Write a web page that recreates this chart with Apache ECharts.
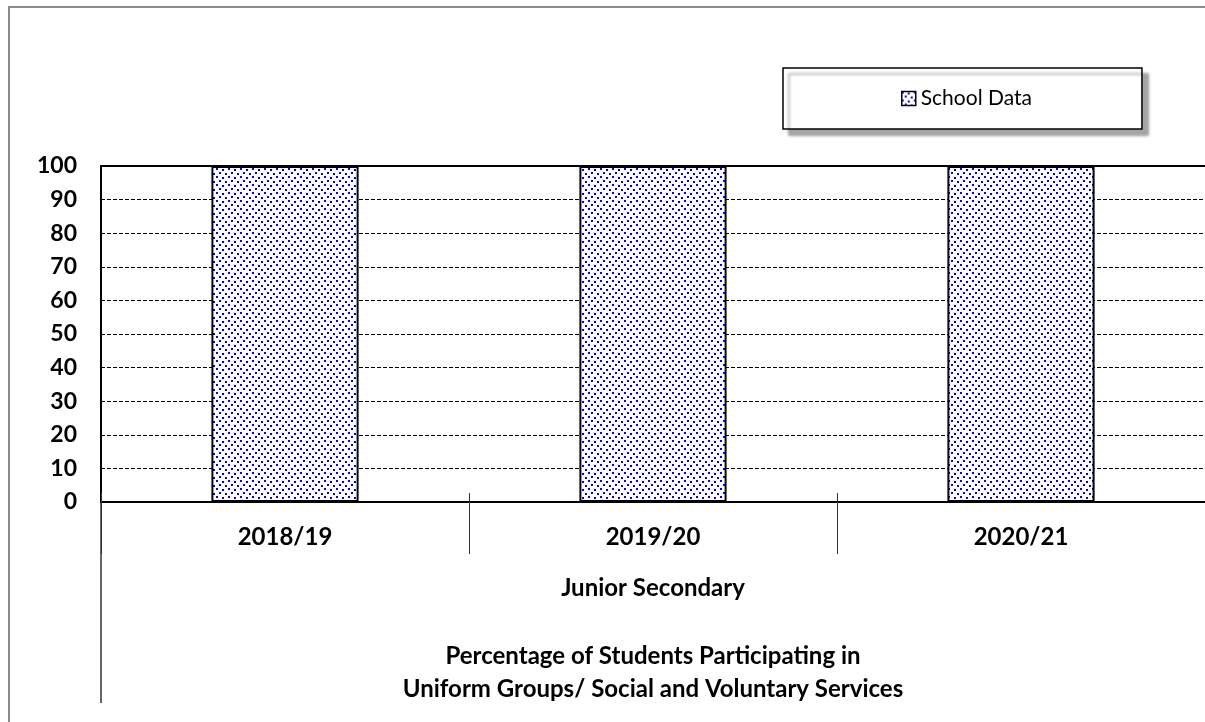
<!DOCTYPE html>
<html>
<head>
<meta charset="utf-8">
<script src="https://cdn.jsdelivr.net/npm/echarts@6/dist/echarts.min.js"></script>
<style>html,body{margin:0;padding:0;background:#fff}#c{width:1205px;height:722px}</style>
</head>
<body>
<div id="c"></div>
<script>
const categories = ['2018/19', '2019/20', '2020/21'];
const schoolData = [100, 100, 100];
const seriesName = 'School Data';
const groupLabel = 'Junior Secondary';
const titleLines = ['Percentage of Students Participating in', 'Uniform Groups/ Social and Voluntary Services'];
const yTicks = {min: 0, max: 100, interval: 10};

function makePattern() {
  const c = document.createElement('canvas');
  c.width = 12; c.height = 8;
  const g = c.getContext('2d');
  g.fillStyle = '#fff'; g.fillRect(0, 0, 12, 8);
  g.fillStyle = '#0000ff';
  g.fillRect(0, 0, 2, 2);
  g.fillRect(6, 1, 2, 2);
  g.fillRect(3, 4, 2, 2);
  g.fillRect(9, 5, 2, 2);
  return c;
}
const pattern = {image: makePattern(), repeat: 'repeat'};
const FONT = 'Lato';

const chart = echarts.init(document.getElementById('c'), null, {renderer: 'canvas'});
chart.setOption({
  animation: false,
  backgroundColor: '#fff',
  grid: {left: 101, top: 166, right: 0, bottom: 220, containLabel: false},
  legend: {
    left: 783, top: 68,
    padding: [20, 110, 20, 118],
    icon: 'rect',
    itemWidth: 14, itemHeight: 14, itemGap: 5,
    backgroundColor: '#fff',
    borderColor: '#000', borderWidth: 1.5,
    shadowColor: 'rgba(0,0,0,0.35)', shadowBlur: 3, shadowOffsetX: 6, shadowOffsetY: 6,
    textStyle: {fontFamily: FONT, fontSize: 21, color: '#000'},
    itemStyle: {borderWidth: 1.5, borderColor: '#000'},
    data: [seriesName]
  },
  xAxis: [
    {
      type: 'category', data: categories, position: 'bottom',
      axisLine: {show: true, lineStyle: {color: '#000', width: 2}},
      axisTick: {show: true, length: 52, lineStyle: {color: '#333', width: 1}},
      axisLabel: {fontFamily: FONT, fontWeight: 'bold', fontSize: 24, color: '#000', margin: 23},
      name: groupLabel, nameLocation: 'middle', nameGap: 74,
      nameTextStyle: {fontFamily: FONT, fontWeight: 'bold', fontSize: 24, color: '#000'},
      splitLine: {show: false}
    },
    {
      type: 'category', data: categories, position: 'bottom', offset: 0,
      axisLine: {show: false},
      axisTick: {show: true, inside: true, length: 9, lineStyle: {color: '#333', width: 1}},
      axisLabel: {show: false}, splitLine: {show: false}
    },
    {
      type: 'category', data: categories, position: 'top',
      axisLine: {show: true, lineStyle: {color: '#000', width: 2}},
      axisTick: {show: false}, axisLabel: {show: false}, splitLine: {show: false}
    }
  ],
  yAxis: {
    type: 'value', min: yTicks.min, max: yTicks.max, interval: yTicks.interval,
    axisLine: {show: true, lineStyle: {color: '#000', width: 2}},
    axisTick: {show: false},
    axisLabel: {fontFamily: FONT, fontWeight: 'bold', fontSize: 23, color: '#000', margin: 24},
    splitLine: {show: true, lineStyle: {color: '#000', type: [4, 2], width: 1}}
  },
  series: [{
    name: seriesName, type: 'bar', xAxisIndex: 0, data: schoolData,
    barWidth: '40%',
    itemStyle: {color: pattern, borderColor: '#000', borderWidth: 2}
  }],
  graphic: [
    {type: 'rect', shape: {x: 9, y: 7, width: 1400, height: 900}, style: {fill: null, stroke: '#8c8c8c', lineWidth: 2}, silent: true, z: -1},
    {type: 'line', shape: {x1: 101, y1: 502, x2: 101, y2: 703}, style: {stroke: '#333', lineWidth: 1.5}},
    {type: 'text', x: 653, y: 656, style: {text: titleLines[0], textAlign: 'center', textVerticalAlign: 'middle', font: 'bold 24px ' + FONT, fill: '#000'}},
    {type: 'text', x: 653, y: 689, style: {text: titleLines[1], textAlign: 'center', textVerticalAlign: 'middle', font: 'bold 24px ' + FONT, fill: '#000'}}
  ]
});
</script>
</body>
</html>
